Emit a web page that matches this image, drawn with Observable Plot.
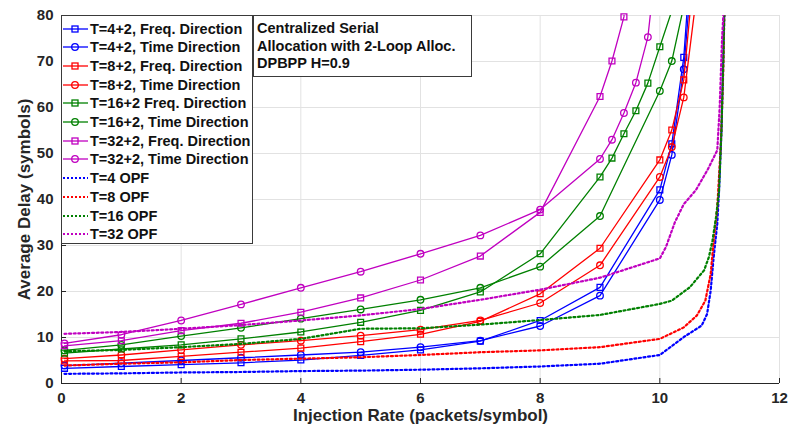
<!DOCTYPE html>
<html><head><meta charset="utf-8">
<script src="https://cdn.jsdelivr.net/npm/d3@7"></script>
<script src="https://cdn.jsdelivr.net/npm/@observablehq/plot@0.6"></script>
<style>
body{margin:0;background:#fff;font-family:"Liberation Sans",Arial,sans-serif;}
#wrap{position:relative;width:788px;height:428px;}
.box{position:absolute;background:#fff;border:1px solid #3a3a3a;box-sizing:border-box;font-weight:bold;color:#111;font-size:14.5px;}
.row{position:absolute;left:0;height:18px;display:flex;align-items:center;white-space:nowrap;}
.row svg{margin-right:1px;}
</style></head><body><div id="wrap"></div>
<script>
// ---- tick labels ----
const xTicks = [0, 2, 4, 6, 8, 10, 12];
const yTicks = [0, 10, 20, 30, 40, 50, 60, 70, 80];
const xLabel = "Injection Rate (packets/symbol)";
const yLabel = "Average Delay (symbols)";

// ---- x positions (injection rate) ----
const xT4 = [0.05, 1, 2, 3, 4, 5, 6, 7, 8, 9, 10, 10.2, 10.4, 10.6];
const xT16F = [0.05, 1, 2, 3, 4, 5, 6, 7, 8, 9, 9.2, 9.4, 9.6, 9.8, 10, 10.2];
const xT16T = [0.05, 1, 2, 3, 4, 5, 6, 7, 8, 9, 10, 10.2, 10.4];
const xT32F = [0.05, 1, 2, 3, 4, 5, 6, 7, 8, 9, 9.2, 9.4, 9.6];
const xT32T = [0.05, 1, 2, 3, 4, 5, 6, 7, 8, 9, 9.2, 9.4, 9.6, 9.8, 10];

// ---- solid series (average delay, symbols) ----
const t4Freq  = [3.3, 3.7, 4.1, 4.5, 5.1, 6.1, 7.3, 9.2, 13.7, 20.9, 42.1, 52.1, 70.9, 107];
const t4Time  = [3.9, 4.4, 5.0, 5.6, 6.2, 6.8, 7.9, 9.3, 12.5, 19.1, 39.9, 49.7, 68.3, 100];
const t8Freq  = [4.9, 5.0, 5.9, 6.8, 7.7, 9.1, 10.7, 13.5, 19.5, 29.4, 48.6, 55.1, 66.0, 94];
const t8Time  = [5.4, 6.2, 7.3, 8.4, 9.3, 10.4, 11.7, 13.7, 17.5, 25.7, 44.9, 51.4, 62.2, 83];
const t16Freq = [6.6, 7.5, 8.4, 9.7, 11.2, 13.3, 15.9, 19.9, 28.2, 44.9, 49.0, 54.3, 59.3, 65.3, 73.2, 81];
const t16Time = [7.2, 8.4, 10.3, 12.1, 14.1, 16.1, 18.2, 20.8, 25.4, 36.4, 63.6, 70.1, 82];
const t32Freq = [8.2, 9.3, 11.5, 13.1, 15.5, 18.6, 22.5, 27.7, 37.2, 62.4, 70.1, 79.7, 120];
const t32Time = [8.7, 10.6, 13.7, 17.2, 20.8, 24.3, 28.2, 32.2, 37.8, 48.8, 53.0, 58.8, 65.4, 75.3, 99];

// ---- OPF (dotted) series ----
const opf4X  = [0.05, 1, 2, 3, 4, 5, 6, 7, 8, 9, 10, 10.4, 10.7, 10.79, 10.85, 10.9, 10.96, 10.99, 11.03, 11.06, 11.08];
const opf4Y  = [2.1, 2.2, 2.4, 2.5, 2.7, 2.8, 3.0, 3.3, 3.7, 4.3, 6.2, 10.1, 12.6, 15.1, 20.2, 27.5, 34.7, 42, 55, 70, 82];
const opf8X  = [0.05, 1, 2, 3, 4, 5, 6, 7, 8, 9, 10, 10.4, 10.62, 10.76, 10.85, 10.9, 10.96, 11.02, 11.06, 11.08];
const opf8Y  = [3.9, 4.3, 4.6, 5.1, 5.4, 5.7, 6.2, 6.8, 7.2, 7.9, 9.7, 12.2, 14.8, 18.0, 23.8, 31.1, 38.3, 52, 68, 82];
const opf16X = [0.05, 1, 2, 3, 4, 5, 6, 7, 8, 9, 10, 10.2, 10.5, 10.74, 10.82, 10.88, 10.94, 10.99, 11.03, 11.06, 11.08];
const opf16Y = [7.0, 7.3, 7.9, 8.6, 9.7, 11.9, 12.0, 12.8, 13.8, 14.9, 17.3, 18.0, 20.9, 24.6, 27.5, 31.1, 36.2, 42, 55, 70, 82];
const opf32X = [0.05, 1, 2, 3, 4, 5, 6, 7, 8, 9, 10, 10.1, 10.25, 10.4, 10.6, 10.8, 10.96, 11.0, 11.04, 11.07];
const opf32Y = [10.8, 11.2, 11.9, 12.7, 13.7, 14.8, 16.2, 18.2, 20.4, 23.0, 27.2, 29.6, 35, 39, 42, 46.5, 50.7, 60, 75, 82];

const BLUE = "#0000ff", RED = "#ff0000", GREEN = "#008000", MAG = "#c000c0";

const series = [
  {name: "T=4+2, Freq. Direction", color: BLUE, symbol: "square", xs: xT4, ys: t4Freq},
  {name: "T=4+2, Time Direction", color: BLUE, symbol: "circle", xs: xT4, ys: t4Time},
  {name: "T=8+2, Freq. Direction", color: RED, symbol: "square", xs: xT4, ys: t8Freq},
  {name: "T=8+2, Time Direction", color: RED, symbol: "circle", xs: xT4, ys: t8Time},
  {name: "T=16+2 Freq. Direction", color: GREEN, symbol: "square", xs: xT16F, ys: t16Freq},
  {name: "T=16+2, Time Direction", color: GREEN, symbol: "circle", xs: xT16T, ys: t16Time},
  {name: "T=32+2, Freq. Direction", color: MAG, symbol: "square", xs: xT32F, ys: t32Freq},
  {name: "T=32+2, Time Direction", color: MAG, symbol: "circle", xs: xT32T, ys: t32Time},
  {name: "T=4 OPF", color: BLUE, symbol: null, xs: opf4X, ys: opf4Y},
  {name: "T=8 OPF", color: RED, symbol: null, xs: opf8X, ys: opf8Y},
  {name: "T=16 OPF", color: GREEN, symbol: null, xs: opf16X, ys: opf16Y},
  {name: "T=32 OPF", color: MAG, symbol: null, xs: opf32X, ys: opf32Y}
];

const annotation = ["Centralized Serial", "Allocation with 2-Loop Alloc.", "DPBPP H=0.9"];

const marks = [
  Plot.gridX(xTicks, {stroke: "#e2e2e2", strokeOpacity: 1, strokeWidth: 1}),
  Plot.gridY(yTicks, {stroke: "#e2e2e2", strokeOpacity: 1, strokeWidth: 1}),
  Plot.axisX(xTicks, {tickSize: -5, tickPadding: 14, tickFormat: d => String(d), fontSize: 15, fontWeight: "bold", fill: "#262626", label: null}),
  Plot.axisY(yTicks, {tickSize: -5, tickPadding: 13, tickFormat: d => String(d), fontSize: 15, fontWeight: "bold", fill: "#262626", label: null}),
  Plot.text([xLabel], {text: d => d, frameAnchor: "bottom", dy: 32, textAnchor: "middle", lineAnchor: "middle", fontSize: 17, fontWeight: "bold", fill: "#262626"}),
  Plot.text([yLabel], {text: d => d, frameAnchor: "left", dx: -37, rotate: -90, textAnchor: "middle", lineAnchor: "middle", fontSize: 17, fontWeight: "bold", fill: "#262626"}),
  Plot.ruleX([0], {stroke: "#262626", strokeWidth: 1}),
  Plot.ruleY([0], {stroke: "#262626", strokeWidth: 1})
];

series.forEach(s => {
  const rows = s.xs.map((x, i) => ({x, y: s.ys[i]}));
  if (s.symbol) {
    marks.push(Plot.line(rows, {x: "x", y: "y", stroke: s.color, strokeWidth: 1.3, clip: true}));
    marks.push(Plot.dot(rows.filter(d => d.y <= 80.5), {x: "x", y: "y", stroke: s.color, fill: "none", strokeWidth: 1.3,
      symbol: s.symbol, r: 3.3}));
  }
});
series.forEach(s => {
  if (!s.symbol) {
    const rows = s.xs.map((x, i) => ({x, y: s.ys[i]}));
    marks.push(Plot.line(rows, {x: "x", y: "y", stroke: s.color, strokeWidth: 2.2, strokeDasharray: "2,2.6", clip: true}));
  }
});

const chart = Plot.plot({
  width: 788, height: 428,
  marginLeft: 61, marginRight: 9, marginTop: 15, marginBottom: 45,
  style: {fontFamily: "'Liberation Sans', Arial, sans-serif", fontSize: "15px", fontWeight: "bold", color: "#262626", background: "#fff"},
  x: {domain: [0, 12]},
  y: {domain: [0, 80]},
  marks
});
const wrap = document.getElementById("wrap");
wrap.appendChild(chart);

// legend
const leg = document.createElement("div");
leg.className = "box";
Object.assign(leg.style, {left: "61px", top: "15px", width: "192px", height: "229px"});
series.forEach((s, i) => {
  const row = document.createElement("div");
  row.className = "row";
  row.style.top = (3.5 + i * 18.7) + "px";
  const dash = s.symbol ? "" : ` stroke-dasharray="2,2"`;
  const sw = s.symbol ? 1.3 : 2;
  let mk = "";
  if (s.symbol === "square") mk = `<rect x="10" y="6" width="6" height="6" fill="none" stroke="${s.color}" stroke-width="1.3"/>`;
  if (s.symbol === "circle") mk = `<circle cx="13" cy="9" r="3.3" fill="none" stroke="${s.color}" stroke-width="1.3"/>`;
  row.innerHTML = `<svg width="27" height="18"><line x1="1" y1="9" x2="26" y2="9" stroke="${s.color}" stroke-width="${sw}"${dash}/>${mk}</svg><span>${s.name}</span>`;
  leg.appendChild(row);
});
wrap.appendChild(leg);

// annotation
const ann = document.createElement("div");
ann.className = "box";
Object.assign(ann.style, {left: "253px", top: "15px", width: "219px", height: "62px", padding: "4px 0 0 3px", lineHeight: "17.5px"});
ann.innerHTML = annotation.map(t => `<div>${t}</div>`).join("");
wrap.appendChild(ann);
</script>
</body></html>
